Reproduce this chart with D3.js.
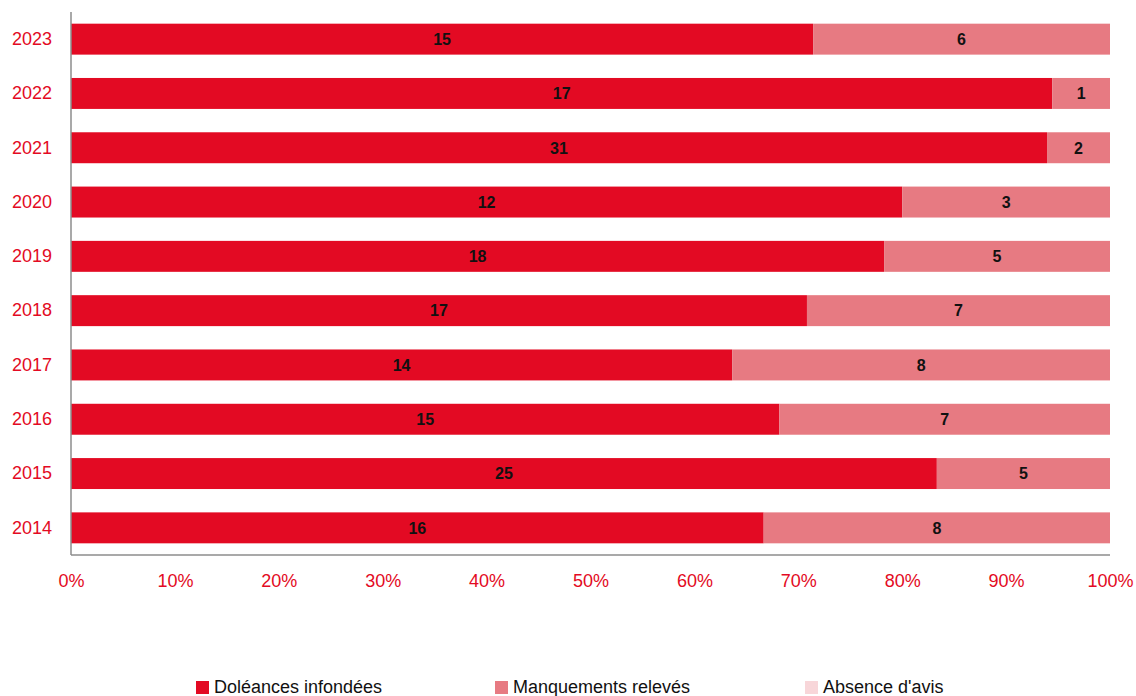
<!DOCTYPE html>
<html>
<head>
<meta charset="utf-8">
<script src="https://d3js.org/d3.v7.min.js"></script>
<style>
    body { margin: 0; background: #fff; }
    svg text { font-family: "Liberation Sans", Arial, sans-serif; }
    .axis path { stroke: #8c8c8c; stroke-width: 1.5px; }
    .axis line { display: none; }
    .axis text { fill: #e30a23; font-size: 18px; }
    .label { font-size: 16px; font-weight: bold; fill: #111; }
    .legend text { font-size: 18px; fill: #111; }
</style>
</head>
<body>
<svg width="1136" height="696"></svg>
<script>
    // data
    var years = ["2023", "2022", "2021", "2020", "2019", "2018", "2017", "2016", "2015", "2014"];
    var infondees = [15, 17, 31, 12, 18, 17, 14, 15, 25, 16];
    var manquements = [6, 1, 2, 3, 5, 7, 8, 7, 5, 8];
    var absence = [0, 0, 0, 0, 0, 0, 0, 0, 0, 0];
    var seriesNames = ["Doléances infondées", "Manquements relevés", "Absence d'avis"];
    var colors = ["#e30a23", "#e77a82", "#f8d6d9"];
    var xTicks = [0, 0.1, 0.2, 0.3, 0.4, 0.5, 0.6, 0.7, 0.8, 0.9, 1];

    var svg = d3.select("svg");
    var plotLeft = 71, plotRight = 1110, plotTop = 12, plotBottom = 555;

    var x = d3.scaleLinear().domain([0, 1]).range([plotLeft, plotRight]);
    var y = d3.scaleBand().domain(years).range([plotTop, plotBottom])
        .paddingInner(0.43).paddingOuter(0.215);

    var rows = years.map(function (yr, i) {
        return {year: yr, values: [infondees[i], manquements[i], absence[i]]};
    });

    // stacked segments
    rows.forEach(function (r) {
        var total = d3.sum(r.values);
        var acc = 0;
        r.values.forEach(function (v, k) {
            var x0 = acc / total, x1 = (acc + v) / total;
            acc += v;
            if (v === 0) return;
            svg.append("rect")
                .attr("x", x(x0))
                .attr("y", y(r.year))
                .attr("width", x(x1) - x(x0))
                .attr("height", y.bandwidth())
                .attr("fill", colors[k]);
            svg.append("text")
                .attr("class", "label")
                .attr("x", (x(x0) + x(x1)) / 2)
                .attr("y", y(r.year) + y.bandwidth() / 2)
                .attr("dy", "0.36em")
                .attr("text-anchor", "middle")
                .text(v);
        });
    });

    // axes
    var yAxis = svg.append("g")
        .attr("class", "axis")
        .attr("transform", "translate(" + plotLeft + ",0)")
        .call(d3.axisLeft(y).tickSize(0).tickPadding(19));
    yAxis.select(".domain").attr("d", "M0," + plotTop + "V" + plotBottom);

    var xAxis = svg.append("g")
        .attr("class", "axis")
        .attr("transform", "translate(0," + plotBottom + ")")
        .call(d3.axisBottom(x).tickValues(xTicks).tickSize(0).tickPadding(19)
            .tickFormat(d3.format(".0%")));
    xAxis.select(".domain").attr("d", "M" + plotLeft + ",0H" + plotRight);

    // legend
    var legendX = [196, 495, 805];
    var legend = svg.append("g").attr("class", "legend");
    seriesNames.forEach(function (name, k) {
        legend.append("rect")
            .attr("x", legendX[k]).attr("y", 681)
            .attr("width", 13).attr("height", 13)
            .attr("fill", colors[k]);
        legend.append("text")
            .attr("x", legendX[k] + 18).attr("y", 693)
            .text(name);
    });
</script>
</body>
</html>
